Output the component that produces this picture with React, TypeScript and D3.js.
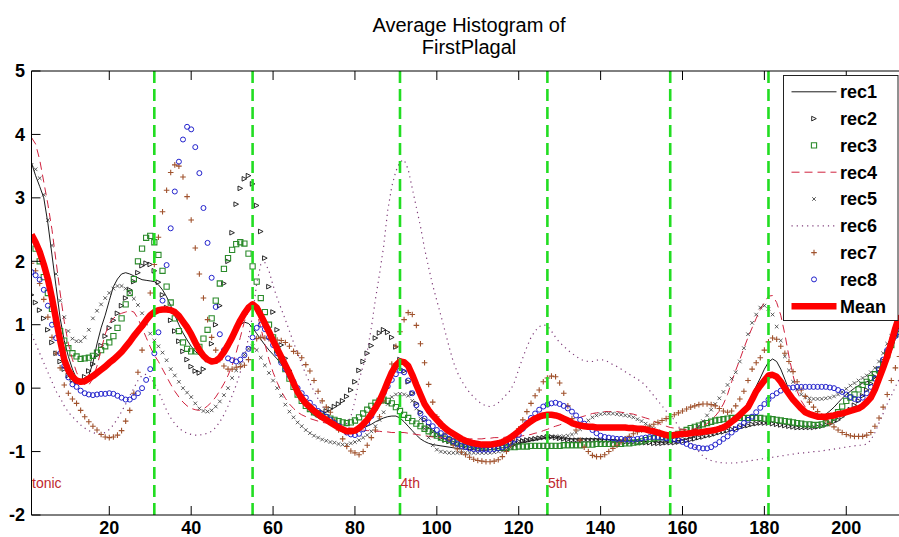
import React from 'react';
import * as d3 from 'd3';

const WIDTH = 899;
const HEIGHT = 537;

const titleLines = ['Average Histogram of', 'FirstPlagal'];
const xTicks = [20, 40, 60, 80, 100, 120, 140, 160, 180, 200];
const yTicks = [-2, -1, 0, 1, 2, 3, 4, 5];
const guideBins = [31, 55, 91, 127, 157, 181];
const noteBins = [1, 91, 127];
const noteNames = ['tonic', '4th', '5th'];
const noteLevel = -1.5;

// Histogram values per bin (bins 1..213), one array per recording
const rec1 = [
  3.55, 3.35, 3.18, 3.0, 2.6, 2.1, 1.6, 1.1, 0.75, 0.5,
  0.3, 0.15, 0.1, 0.08, 0.2, 0.4, 0.7, 0.95, 1.15, 1.38,
  1.6, 1.72, 1.8, 1.82, 1.8, 1.77, 1.74, 1.71, 1.7, 1.69,
  1.68, 1.63, 1.55, 1.44, 1.3, 1.15, 1.0, 0.87, 0.76, 0.66,
  0.58, 0.52, 0.47, 0.44, 0.42, 0.43, 0.5, 0.6, 0.72, 0.85,
  0.94, 1.0, 1.04, 1.02, 0.95, 0.86, 0.77, 0.68, 0.6, 0.53,
  0.46, 0.38, 0.27, 0.14, 0.0, -0.1, -0.2, -0.29, -0.37, -0.43,
  -0.47, -0.5, -0.53, -0.56, -0.59, -0.62, -0.65, -0.67, -0.68, -0.68,
  -0.66, -0.63, -0.6, -0.57, -0.53, -0.5, -0.47, -0.45, -0.44, -0.44,
  -0.47, -0.53, -0.6, -0.67, -0.74, -0.8, -0.84, -0.87, -0.89, -0.9,
  -0.91, -0.92, -0.93, -0.94, -0.95, -0.96, -0.96, -0.97, -0.97, -0.98,
  -0.98, -0.98, -0.97, -0.96, -0.95, -0.94, -0.93, -0.91, -0.9, -0.88,
  -0.86, -0.85, -0.83, -0.82, -0.8, -0.79, -0.78, -0.78, -0.78, -0.79,
  -0.8, -0.8, -0.8, -0.8, -0.8, -0.8, -0.8, -0.8, -0.8, -0.8,
  -0.81, -0.81, -0.81, -0.82, -0.82, -0.82, -0.82, -0.83, -0.83, -0.83,
  -0.84, -0.84, -0.84, -0.85, -0.85, -0.85, -0.85, -0.84, -0.83, -0.81,
  -0.8, -0.78, -0.76, -0.73, -0.7, -0.67, -0.65, -0.63, -0.6, -0.58,
  -0.55, -0.52, -0.48, -0.42, -0.34, -0.22, -0.1, 0.03, 0.16, 0.3,
  0.41, 0.46, 0.42, 0.3, 0.14, -0.03, -0.16, -0.27, -0.35, -0.4,
  -0.43, -0.45, -0.46, -0.45, -0.41, -0.36, -0.3, -0.23, -0.16, -0.1,
  -0.05, 0.0, 0.04, 0.08, 0.1, 0.12, 0.16, 0.22, 0.3, 0.42,
  0.58, 0.78, 1.0,
];

const rec2 = [
  1.47, 1.35, 1.23, 1.1, 0.92, 0.72, 0.55, 0.42, 0.3, 0.2,
  0.13, 0.1, 0.12, 0.18, 0.27, 0.38, 0.52, 0.67, 0.82, 0.95,
  1.07, 1.18, 1.3, 1.42, 1.55, 1.68, 1.82, 1.93, 1.97, 1.95,
  1.85, 1.67, 1.47, 1.27, 1.07, 0.9, 0.74, 0.58, 0.45, 0.34,
  0.27, 0.24, 0.3, 0.45, 0.7, 1.0, 1.3, 1.65, 2.0, 2.45,
  2.9, 3.15, 3.3, 3.35, 3.22, 2.88, 2.47, 2.05, 1.6, 1.2,
  0.92, 0.68, 0.47, 0.28, 0.12, -0.02, -0.13, -0.22, -0.29, -0.34,
  -0.37, -0.38, -0.36, -0.33, -0.29, -0.25, -0.2, -0.13, -0.03, 0.1,
  0.28, 0.42, 0.55, 0.67, 0.79, 0.87, 0.92, 0.88, 0.8, 0.65,
  0.45, 0.27, 0.1, -0.08, -0.24, -0.38, -0.5, -0.6, -0.68, -0.74,
  -0.78, -0.82, -0.84, -0.86, -0.88, -0.9, -0.91, -0.92, -0.93, -0.93,
  -0.93, -0.92, -0.91, -0.9, -0.89, -0.88, -0.87, -0.86, -0.85, -0.84,
  -0.83, -0.82, -0.81, -0.8, -0.79, -0.78, -0.77, -0.77, -0.78, -0.79,
  -0.8, -0.81, -0.82, -0.82, -0.82, -0.82, -0.82, -0.82, -0.82, -0.83,
  -0.83, -0.83, -0.84, -0.84, -0.84, -0.85, -0.85, -0.85, -0.86, -0.86,
  -0.86, -0.86, -0.87, -0.87, -0.87, -0.86, -0.86, -0.86, -0.85, -0.84,
  -0.83, -0.81, -0.8, -0.78, -0.77, -0.75, -0.74, -0.72, -0.7, -0.69,
  -0.67, -0.65, -0.64, -0.62, -0.6, -0.59, -0.57, -0.56, -0.55, -0.55,
  -0.55, -0.56, -0.57, -0.58, -0.59, -0.6, -0.61, -0.62, -0.62, -0.62,
  -0.62, -0.62, -0.61, -0.6, -0.58, -0.56, -0.53, -0.5, -0.45, -0.4,
  -0.34, -0.27, -0.2, -0.12, -0.03, 0.07, 0.18, 0.3, 0.43, 0.57,
  0.7, 0.82, 0.92,
];

const rec3 = [
  2.37, 2.2, 2.0, 1.75, 1.5, 1.25, 1.05, 0.9, 0.75, 0.63,
  0.55, 0.5, 0.46, 0.47, 0.48, 0.51, 0.56, 0.6, 0.66, 0.72,
  0.82, 0.95, 1.1, 1.32, 1.5, 1.72, 2.0, 2.2, 2.37, 2.4,
  2.3, 2.1, 1.85, 1.6, 1.35, 1.1, 0.9, 0.72, 0.62, 0.58,
  0.58, 0.65, 0.78, 0.92, 1.1, 1.38, 1.65, 1.88, 2.05, 2.18,
  2.27, 2.3, 2.28, 2.12, 1.92, 1.68, 1.42, 1.2, 1.0, 0.8,
  0.6, 0.45, 0.3, 0.15, 0.02, -0.1, -0.2, -0.28, -0.33, -0.38,
  -0.41, -0.44, -0.46, -0.48, -0.5, -0.52, -0.54, -0.55, -0.54, -0.51,
  -0.46, -0.4, -0.34, -0.28, -0.23, -0.2, -0.18, -0.2, -0.24, -0.3,
  -0.36, -0.42, -0.47, -0.52, -0.56, -0.6, -0.64, -0.68, -0.72, -0.75,
  -0.78, -0.8, -0.82, -0.84, -0.86, -0.87, -0.88, -0.89, -0.9, -0.91,
  -0.92, -0.92, -0.93, -0.93, -0.94, -0.94, -0.94, -0.93, -0.93, -0.92,
  -0.92, -0.92, -0.91, -0.91, -0.91, -0.91, -0.91, -0.91, -0.91, -0.91,
  -0.9, -0.9, -0.9, -0.9, -0.9, -0.89, -0.89, -0.89, -0.88, -0.88,
  -0.88, -0.88, -0.88, -0.88, -0.88, -0.87, -0.87, -0.86, -0.85, -0.84,
  -0.82, -0.8, -0.79, -0.78, -0.77, -0.76, -0.75, -0.74, -0.72, -0.69,
  -0.66, -0.63, -0.61, -0.59, -0.57, -0.55, -0.53, -0.51, -0.5, -0.49,
  -0.48, -0.47, -0.47, -0.47, -0.47, -0.47, -0.47, -0.47, -0.47, -0.48,
  -0.48, -0.49, -0.5, -0.51, -0.52, -0.53, -0.54, -0.55, -0.56, -0.57,
  -0.57, -0.58, -0.58, -0.57, -0.55, -0.51, -0.46, -0.38, -0.29, -0.2,
  -0.15, -0.1, -0.02, 0.05, 0.1, 0.16, 0.22, 0.28, 0.38, 0.52,
  0.68, 0.85, 1.0,
];

const rec4 = [
  3.95, 3.85, 3.6, 3.25, 2.9, 2.5, 2.0, 1.5, 1.05, 0.7,
  0.45, 0.25, 0.12, 0.05, 0.05, 0.15, 0.35, 0.6, 0.85, 1.02,
  1.1, 1.15, 1.18, 1.2, 1.22, 1.2, 1.1, 0.95, 0.8, 0.65,
  0.52, 0.42, 0.3, 0.18, 0.06, -0.05, -0.14, -0.22, -0.28, -0.32,
  -0.34, -0.35, -0.33, -0.28, -0.22, -0.14, -0.04, 0.07, 0.2, 0.36,
  0.56, 0.8, 1.05, 1.22, 1.3, 1.2, 0.95, 0.7, 0.45, 0.25,
  0.09, -0.05, -0.16, -0.25, -0.32, -0.38, -0.42, -0.45, -0.48, -0.5,
  -0.52, -0.54, -0.55, -0.57, -0.58, -0.6, -0.61, -0.62, -0.63, -0.64,
  -0.65, -0.66, -0.67, -0.67, -0.68, -0.68, -0.69, -0.69, -0.7, -0.7,
  -0.7, -0.7, -0.71, -0.72, -0.73, -0.74, -0.75, -0.76, -0.77, -0.78,
  -0.78, -0.79, -0.79, -0.8, -0.8, -0.8, -0.8, -0.8, -0.8, -0.8,
  -0.8, -0.79, -0.79, -0.78, -0.78, -0.78, -0.77, -0.77, -0.76, -0.76,
  -0.75, -0.74, -0.73, -0.71, -0.7, -0.67, -0.65, -0.62, -0.6, -0.58,
  -0.55, -0.53, -0.5, -0.48, -0.46, -0.44, -0.42, -0.4, -0.39, -0.38,
  -0.37, -0.37, -0.37, -0.37, -0.38, -0.39, -0.4, -0.41, -0.43, -0.45,
  -0.47, -0.49, -0.52, -0.55, -0.58, -0.6, -0.62, -0.63, -0.64, -0.65,
  -0.65, -0.65, -0.64, -0.62, -0.6, -0.56, -0.5, -0.44, -0.36, -0.25,
  -0.1, 0.1, 0.28, 0.45, 0.63, 0.8, 0.95, 1.1, 1.24, 1.35,
  1.45, 1.46, 1.35, 1.15, 0.85, 0.5, 0.2, -0.05, -0.2, -0.3,
  -0.36, -0.41, -0.45, -0.47, -0.48, -0.48, -0.47, -0.45, -0.43, -0.4,
  -0.37, -0.33, -0.29, -0.24, -0.17, -0.1, 0.0, 0.15, 0.3, 0.48,
  0.68, 0.9, 1.1,
];

const rec5 = [
  3.52, 3.45, 3.31, 3.05, 2.65, 2.25, 1.8, 1.38, 1.12, 0.9,
  0.78, 0.74, 0.74, 0.8, 0.92, 1.1, 1.22, 1.32, 1.42, 1.5,
  1.57, 1.61, 1.61, 1.57, 1.5, 1.41, 1.31, 1.18, 1.02, 0.86,
  0.75, 0.66, 0.56, 0.44, 0.3, 0.2, 0.1, 0.0, -0.07, -0.14,
  -0.24, -0.32, -0.36, -0.37, -0.35, -0.29, -0.21, -0.11, 0.0, 0.16,
  0.28, 0.4, 0.53, 0.62, 0.66, 0.6, 0.48, 0.36, 0.24, 0.12,
  0.0, -0.12, -0.26, -0.37, -0.46, -0.54, -0.6, -0.66, -0.71, -0.75,
  -0.78, -0.81, -0.83, -0.85, -0.86, -0.88, -0.89, -0.89, -0.87, -0.85,
  -0.82, -0.78, -0.74, -0.68, -0.6, -0.5, -0.38, -0.25, -0.14, -0.1,
  -0.09, -0.1, -0.12, -0.2, -0.32, -0.48, -0.64, -0.78, -0.9, -0.97,
  -1.0, -1.01, -1.02, -1.02, -1.02, -1.02, -1.02, -1.02, -1.02, -1.02,
  -1.02, -1.02, -1.02, -1.01, -1.0, -0.99, -0.97, -0.94, -0.9, -0.86,
  -0.83, -0.81, -0.8, -0.79, -0.78, -0.77, -0.76, -0.76, -0.76, -0.76,
  -0.76, -0.75, -0.73, -0.7, -0.65, -0.58, -0.51, -0.46, -0.43, -0.41,
  -0.4, -0.4, -0.4, -0.41, -0.42, -0.43, -0.44, -0.46, -0.49, -0.52,
  -0.56, -0.6, -0.64, -0.68, -0.71, -0.74, -0.76, -0.78, -0.78, -0.77,
  -0.75, -0.72, -0.67, -0.6, -0.52, -0.43, -0.34, -0.25, -0.16, -0.06,
  0.05, 0.15, 0.25, 0.42, 0.63, 0.85, 1.03, 1.16, 1.27, 1.3,
  1.25, 1.16, 0.97, 0.75, 0.5, 0.28, 0.1, -0.02, -0.1, -0.14,
  -0.16, -0.17, -0.17, -0.17, -0.16, -0.15, -0.13, -0.1, -0.06, -0.01,
  0.04, 0.08, 0.12, 0.16, 0.2, 0.25, 0.32, 0.42, 0.55, 0.7,
  0.82, 0.92, 1.0,
];

const rec6 = [
  0.85, 0.7, 0.55, 0.4, 0.25, 0.1, -0.05, -0.15, -0.28, -0.38,
  -0.45, -0.52, -0.58, -0.63, -0.67, -0.7, -0.72, -0.72, -0.7, -0.65,
  -0.58, -0.48, -0.37, -0.25, -0.12, 0.0, 0.12, 0.2, 0.22, 0.18,
  0.08, -0.05, -0.2, -0.35, -0.47, -0.56, -0.63, -0.68, -0.71, -0.73,
  -0.74, -0.74, -0.73, -0.71, -0.68, -0.62, -0.53, -0.42, -0.28, -0.12,
  0.05, 0.25, 0.5, 0.8, 1.15, 1.65, 1.95, 1.98, 1.85, 1.62,
  1.42, 1.25, 1.08, 0.9, 0.72, 0.55, 0.38, 0.22, 0.08, -0.05,
  -0.17, -0.28, -0.37, -0.45, -0.52, -0.56, -0.58, -0.56, -0.45, -0.2,
  0.13, 0.35, 0.58, 0.95, 1.4, 1.8, 2.23, 2.8, 3.18, 3.42,
  3.57, 3.6, 3.45, 3.15, 2.85, 2.55, 2.2, 1.9, 1.62, 1.38,
  1.14, 0.9, 0.65, 0.42, 0.25, 0.12, 0.02, -0.07, -0.14, -0.2,
  -0.25, -0.28, -0.29, -0.27, -0.23, -0.17, -0.1, -0.03, 0.1, 0.3,
  0.48, 0.65, 0.8, 0.9, 0.97, 1.0, 0.98, 0.9, 0.8, 0.72,
  0.66, 0.6, 0.55, 0.5, 0.46, 0.43, 0.42, 0.42, 0.44, 0.45,
  0.44, 0.41, 0.37, 0.34, 0.3, 0.26, 0.22, 0.18, 0.14, 0.1,
  0.04, -0.04, -0.12, -0.2, -0.28, -0.36, -0.44, -0.5, -0.6, -0.7,
  -0.78, -0.86, -0.93, -1.0, -1.07, -1.12, -1.14, -1.16, -1.17, -1.18,
  -1.18, -1.18, -1.18, -1.17, -1.16, -1.15, -1.14, -1.13, -1.12, -1.11,
  -1.1, -1.09, -1.08, -1.07, -1.06, -1.05, -1.04, -1.03, -1.02, -1.02,
  -1.01, -1.0, -1.0, -0.99, -0.98, -0.97, -0.96, -0.95, -0.94, -0.93,
  -0.92, -0.91, -0.9, -0.9, -0.88, -0.82, -0.7, -0.55, -0.4, -0.25,
  -0.12, 0.02, 0.15,
];

const rec7 = [
  1.97, 1.85, 1.65, 1.4, 1.12, 0.8, 0.55, 0.32, 0.05, -0.08,
  -0.17, -0.24, -0.35, -0.45, -0.53, -0.6, -0.66, -0.73, -0.77, -0.78,
  -0.77, -0.74, -0.67, -0.52, -0.35, -0.08, 0.25, 0.6, 1.05, 1.5,
  1.95, 2.38, 2.78, 3.12, 3.4, 3.52, 3.5, 3.33, 3.02, 2.65,
  2.21, 1.8, 1.42, 1.08, 0.8, 0.6, 0.45, 0.35, 0.3, 0.3,
  0.33, 0.34, 0.36, 0.45, 0.62, 0.78, 0.8, 0.79, 0.78, 0.77,
  0.76, 0.75, 0.72, 0.66, 0.58, 0.55, 0.48, 0.37, 0.27, 0.12,
  -0.05, -0.2, -0.3, -0.38, -0.52, -0.66, -0.8, -0.92, -0.99, -1.02,
  -1.05, -1.0, -0.9, -0.78, -0.66, -0.45, -0.2, 0.08, 0.38, 0.66,
  0.89, 1.08, 1.19, 1.16, 0.99, 0.7, 0.4, 0.06, -0.22, -0.45,
  -0.6, -0.72, -0.82, -0.9, -0.96, -1.01, -1.05, -1.09, -1.12, -1.14,
  -1.15, -1.16, -1.16, -1.15, -1.13, -1.08, -1.0, -0.9, -0.78, -0.64,
  -0.5, -0.37, -0.24, -0.12, -0.03, 0.1, 0.16, 0.19, 0.18, 0.08,
  -0.08, -0.28, -0.48, -0.66, -0.82, -0.93, -1.0, -1.06, -1.08, -1.08,
  -1.05, -1.0, -0.95, -0.9, -0.85, -0.8, -0.76, -0.72, -0.69, -0.66,
  -0.63, -0.6, -0.57, -0.54, -0.51, -0.48, -0.45, -0.42, -0.39, -0.36,
  -0.33, -0.3, -0.28, -0.26, -0.25, -0.25, -0.26, -0.28, -0.32, -0.36,
  -0.38, -0.36, -0.28, -0.17, -0.05, 0.12, 0.3, 0.4, 0.48, 0.6,
  0.73, 0.79, 0.77, 0.66, 0.55, 0.42, 0.26, 0.1, -0.03, -0.13,
  -0.22, -0.3, -0.37, -0.44, -0.5, -0.56, -0.61, -0.66, -0.7, -0.73,
  -0.75, -0.76, -0.76, -0.76, -0.74, -0.7, -0.6, -0.47, -0.3, -0.1,
  0.12, 0.32, 0.5,
];

const rec8 = [
  1.83, 1.78, 1.71, 1.55, 1.3, 1.0, 0.79, 0.55, 0.35, 0.17,
  0.06, 0.02, -0.04, -0.08, -0.1, -0.11, -0.1, -0.09, -0.09, -0.08,
  -0.09, -0.12, -0.15, -0.18, -0.18, -0.14, -0.08, 0.0, 0.13, 0.3,
  0.55, 0.88, 1.38, 1.94, 2.52, 3.1, 3.57, 3.92, 4.12, 4.08,
  3.8, 3.39, 2.84, 2.29, 1.74, 1.28, 0.85, 0.6, 0.47, 0.44,
  0.42, 0.45, 0.52, 0.62, 0.8, 0.95, 1.0, 0.93, 0.8, 0.68,
  0.55, 0.4, 0.3, 0.2, 0.1, 0.0, -0.08, -0.15, -0.23, -0.3,
  -0.36, -0.41, -0.45, -0.5, -0.55, -0.6, -0.65, -0.7, -0.73, -0.74,
  -0.72, -0.65, -0.55, -0.44, -0.32, -0.2, -0.08, 0.03, 0.13, 0.22,
  0.28, 0.25, 0.12, -0.08, -0.27, -0.4, -0.48, -0.54, -0.6, -0.66,
  -0.71, -0.76, -0.8, -0.84, -0.88, -0.91, -0.93, -0.95, -0.96, -0.97,
  -0.97, -0.97, -0.97, -0.96, -0.95, -0.93, -0.9, -0.86, -0.81, -0.74,
  -0.64, -0.55, -0.47, -0.4, -0.34, -0.29, -0.26, -0.24, -0.23, -0.25,
  -0.28, -0.32, -0.37, -0.43, -0.5, -0.56, -0.61, -0.66, -0.71, -0.75,
  -0.77, -0.78, -0.79, -0.8, -0.8, -0.81, -0.81, -0.81, -0.8, -0.79,
  -0.78, -0.77, -0.77, -0.77, -0.78, -0.79, -0.8, -0.81, -0.82, -0.85,
  -0.88, -0.91, -0.93, -0.94, -0.95, -0.95, -0.93, -0.89, -0.85, -0.8,
  -0.76, -0.7, -0.65, -0.6, -0.55, -0.5, -0.45, -0.38, -0.31, -0.25,
  -0.18, -0.12, -0.08, -0.04, -0.01, 0.0, 0.01, 0.02, 0.02, 0.02,
  0.02, 0.02, 0.02, 0.02, 0.02, 0.01, 0.0, -0.03, -0.06, -0.1,
  -0.14, -0.17, -0.18, -0.15, -0.08, 0.02, 0.15, 0.3, 0.45, 0.6,
  0.72, 0.82, 0.88,
];

const mean = [
  2.42, 2.3, 2.15, 1.95, 1.72, 1.42, 1.08, 0.75, 0.45, 0.28,
  0.18, 0.12, 0.1, 0.11, 0.15, 0.19, 0.24, 0.29, 0.34, 0.4,
  0.45, 0.51, 0.57, 0.65, 0.73, 0.82, 0.9, 0.98, 1.07, 1.15,
  1.2, 1.23, 1.24, 1.24, 1.23, 1.2, 1.14, 1.05, 0.96, 0.85,
  0.72, 0.6, 0.51, 0.45, 0.42, 0.43, 0.48, 0.57, 0.68, 0.8,
  0.94, 1.07, 1.18, 1.27, 1.32, 1.27, 1.15, 1.02, 0.89, 0.75,
  0.62, 0.49, 0.36, 0.23, 0.08, -0.06, -0.16, -0.24, -0.3, -0.36,
  -0.41, -0.46, -0.5, -0.54, -0.58, -0.62, -0.65, -0.68, -0.68, -0.67,
  -0.63, -0.57, -0.5, -0.41, -0.31, -0.2, -0.06, 0.1, 0.25, 0.36,
  0.42, 0.41, 0.35, 0.21, 0.05, -0.1, -0.25, -0.35, -0.43, -0.5,
  -0.57, -0.63, -0.68, -0.72, -0.76, -0.8, -0.83, -0.85, -0.87, -0.88,
  -0.89, -0.89, -0.89, -0.88, -0.87, -0.85, -0.82, -0.78, -0.73, -0.68,
  -0.62, -0.57, -0.52, -0.48, -0.45, -0.43, -0.42, -0.42, -0.43, -0.45,
  -0.48, -0.51, -0.55, -0.57, -0.59, -0.6, -0.61, -0.61, -0.62, -0.62,
  -0.62, -0.62, -0.62, -0.62, -0.62, -0.62, -0.63, -0.63, -0.64, -0.64,
  -0.65, -0.67, -0.68, -0.7, -0.72, -0.74, -0.75, -0.74, -0.73, -0.72,
  -0.72, -0.71, -0.7, -0.7, -0.69, -0.68, -0.67, -0.66, -0.64, -0.62,
  -0.58, -0.53, -0.48, -0.42, -0.36, -0.3, -0.18, -0.05, 0.04, 0.12,
  0.2, 0.21, 0.18, 0.1, 0.0, -0.09, -0.18, -0.25, -0.32, -0.38,
  -0.41, -0.43, -0.45, -0.45, -0.45, -0.44, -0.43, -0.41, -0.4, -0.38,
  -0.36, -0.34, -0.32, -0.28, -0.22, -0.15, -0.02, 0.15, 0.32, 0.5,
  0.72, 0.95, 1.15,
];

type Glyph = 'triangle' | 'square' | 'cross' | 'plus' | 'circle';
type SeriesStyle = {
  name: string;
  values: number[];
  color: string;
  width: number;
  dash?: string;
  glyph?: Glyph;
};

const series: SeriesStyle[] = [
  { name: 'rec1', values: rec1, color: '#000000', width: 0.9 },
  { name: 'rec2', values: rec2, color: '#111111', width: 0.9, glyph: 'triangle' },
  { name: 'rec3', values: rec3, color: '#2a8a2a', width: 1.1, glyph: 'square' },
  { name: 'rec4', values: rec4, color: '#d0223e', width: 1, dash: '8 5' },
  { name: 'rec5', values: rec5, color: '#333333', width: 0.8, glyph: 'cross' },
  { name: 'rec6', values: rec6, color: '#7e3a78', width: 1.2, dash: '1.2 4' },
  { name: 'rec7', values: rec7, color: '#a0522d', width: 1.1, glyph: 'plus' },
  { name: 'rec8', values: rec8, color: '#2222cc', width: 1, glyph: 'circle' },
  { name: 'Mean', values: mean, color: '#ff0000', width: 6.5 },
];

function glyphPath(g: Glyph, cx: number, cy: number): string {
  switch (g) {
    case 'triangle': {
      const s = 2.3;
      return `M${cx + s},${cy}L${cx - s},${cy - s}L${cx - s},${cy + s}Z`;
    }
    case 'square': {
      const s = 2.6;
      return `M${cx - s},${cy - s}h${2 * s}v${2 * s}h${-2 * s}Z`;
    }
    case 'cross': {
      const s = 1.8;
      return `M${cx - s},${cy - s}L${cx + s},${cy + s}M${cx - s},${cy + s}L${cx + s},${cy - s}`;
    }
    case 'plus': {
      const s = 2.8;
      return `M${cx - s},${cy}H${cx + s}M${cx},${cy - s}V${cy + s}`;
    }
    case 'circle': {
      const r = 2.5;
      return `M${cx + r},${cy}A${r},${r} 0 1 0 ${cx - r},${cy}A${r},${r} 0 1 0 ${cx + r},${cy}`;
    }
  }
}

const FONT = "'Liberation Sans', Arial, Helvetica, sans-serif";

export default function App() {
  const plotLeft = 31.5;
  const plotRight = 899.5;
  const plotTop = 71;
  const plotBottom = 515;

  const x = d3.scaleLinear().domain([1, 213]).range([plotLeft, plotRight]);
  const y = d3.scaleLinear().domain([-2, 5]).range([plotBottom, plotTop]);

  const line = d3
    .line<number>()
    .x((_, i) => x(i + 1))
    .y((d) => y(d));

  const legendLeft = 783.5;
  const legendTop = 75.5;
  const legendRight = 898;
  const legendBottom = 320.5;
  const rowY0 = 91.8;
  const rowStep = 26.8;
  const sampleX0 = 791.5;
  const sampleX1 = 836.5;
  const sampleMid = 814;

  return (
    <svg
      width={WIDTH}
      height={HEIGHT}
      style={{ position: 'absolute', left: 0, top: 0, background: '#fff' }}
      fontFamily={FONT}
    >
      <rect x={0} y={0} width={WIDTH} height={HEIGHT} fill="#ffffff" />
      <defs>
        <clipPath id="plot-area">
          <rect x={plotLeft} y={plotTop} width={plotRight - plotLeft} height={plotBottom - plotTop} />
        </clipPath>
      </defs>

      <g clipPath="url(#plot-area)">
        {series.map((s) =>
          s.glyph ? (
            <path
              key={s.name}
              d={s.values.map((v, i) => glyphPath(s.glyph as Glyph, x(i + 1), y(v))).join('')}
              fill="none"
              stroke={s.color}
              strokeWidth={s.width}
            />
          ) : (
            <path
              key={s.name}
              d={line(s.values) || ''}
              fill="none"
              stroke={s.color}
              strokeWidth={s.width}
              strokeDasharray={s.dash}
              strokeLinejoin="round"
            />
          )
        )}
        {guideBins.map((b) => (
          <line
            key={b}
            x1={x(b)}
            x2={x(b)}
            y1={plotTop}
            y2={plotBottom}
            stroke="#22dd22"
            strokeWidth={2.6}
            strokeDasharray="12 6"
          />
        ))}
      </g>

      {/* axes frame */}
      <g stroke="#000" strokeWidth={1} fill="none">
        <line x1={plotLeft} x2={plotRight} y1={plotTop} y2={plotTop} />
        <line x1={plotLeft} x2={plotRight} y1={plotBottom} y2={plotBottom} />
        <line x1={plotLeft} x2={plotLeft} y1={plotTop} y2={plotBottom} />
        {xTicks.map((t) => (
          <g key={t}>
            <line x1={x(t)} x2={x(t)} y1={plotBottom} y2={plotBottom - 9} />
            <line x1={x(t)} x2={x(t)} y1={plotTop} y2={plotTop + 9} />
          </g>
        ))}
        {yTicks.map((t) => (
          <line key={t} x1={plotLeft} x2={plotLeft + 9} y1={y(t)} y2={y(t)} />
        ))}
      </g>

      <g fontSize={18} fontWeight="bold" fill="#000">
        {xTicks.map((t) => (
          <text key={t} x={x(t)} y={534} textAnchor="middle">
            {t}
          </text>
        ))}
        {yTicks.map((t) => (
          <text key={t} x={25} y={y(t)} dy="0.36em" textAnchor="end">
            {t}
          </text>
        ))}
      </g>

      <g fontSize={14} fill="#c0282e">
        {noteBins.map((b, i) => (
          <text key={b} x={x(b) + 0.5} y={y(noteLevel)} dy="0.36em">
            {noteNames[i]}
          </text>
        ))}
      </g>

      <g fontSize={20} fill="#000" textAnchor="middle">
        <text x={469} y={32}>
          {titleLines[0]}
        </text>
        <text x={469} y={54}>
          {titleLines[1]}
        </text>
      </g>

      {/* legend */}
      <g>
        <rect
          x={legendLeft}
          y={legendTop}
          width={legendRight - legendLeft}
          height={legendBottom - legendTop}
          fill="#fff"
          stroke="#222"
          strokeWidth={1}
        />
        {series.map((s, i) => {
          const cy = rowY0 + i * rowStep;
          return (
            <g key={s.name}>
              {s.glyph ? (
                <path
                  d={glyphPath(s.glyph, sampleMid, cy)}
                  fill="none"
                  stroke={s.color}
                  strokeWidth={s.width}
                />
              ) : (
                <line
                  x1={sampleX0}
                  x2={sampleX1}
                  y1={cy}
                  y2={cy}
                  stroke={s.color}
                  strokeWidth={s.width}
                  strokeDasharray={s.dash}
                />
              )}
              <text
                x={840}
                y={cy}
                dy="0.36em"
                fontSize={18}
                fontWeight="bold"
                fill="#000"
              >
                {s.name}
              </text>
            </g>
          );
        })}
      </g>
    </svg>
  );
}
